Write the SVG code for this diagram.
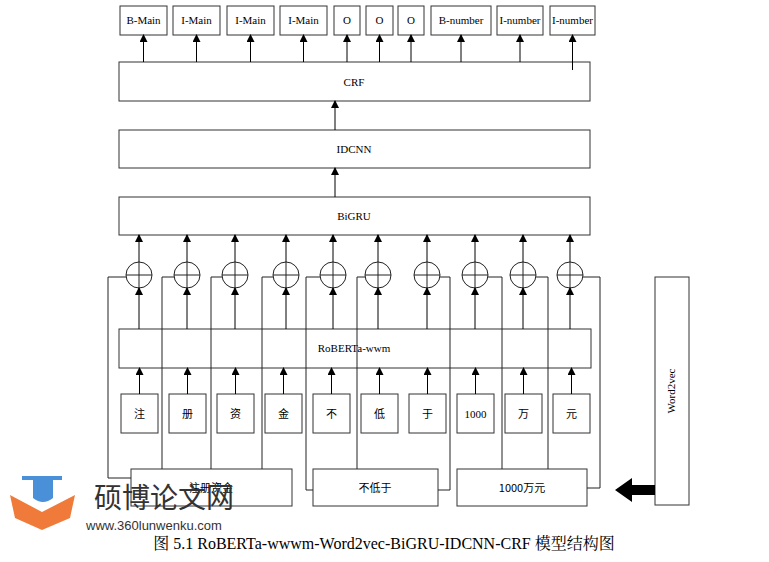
<svg xmlns="http://www.w3.org/2000/svg" width="769" height="562" viewBox="0 0 769 562">
<style>
.b{fill:#fff;stroke:#333;stroke-width:1}
.t{font-family:"Liberation Serif","Noto Sans CJK SC",serif;font-size:11px;text-anchor:middle;fill:#000}
.c{font-family:"Noto Sans CJK SC",sans-serif;font-size:11px;text-anchor:middle;fill:#000}
.l{fill:none;stroke:#222;stroke-width:1}
.a line{stroke:#000;stroke-width:1;marker-end:url(#ar)}
</style>
<defs><marker id="ar" markerWidth="8" markerHeight="8" refX="7" refY="4" orient="auto" markerUnits="userSpaceOnUse"><path d="M0,0L8,4L0,8z" fill="#000"/></marker></defs>
<rect width="769" height="562" fill="#fff"/>
<g id="labels">
<rect class="b" x="120" y="6" width="47" height="29"/><text class="t" x="143.5" y="24">B-Main</text>
<rect class="b" x="173" y="6" width="47" height="29"/><text class="t" x="196.5" y="24">I-Main</text>
<rect class="b" x="227" y="6" width="47" height="29"/><text class="t" x="250.5" y="24">I-Main</text>
<rect class="b" x="280" y="6" width="47" height="29"/><text class="t" x="303.5" y="24">I-Main</text>
<rect class="b" x="334" y="6" width="26" height="29"/><text class="t" x="347" y="24">O</text>
<rect class="b" x="366" y="6" width="27" height="29"/><text class="t" x="379.5" y="24">O</text>
<rect class="b" x="398" y="6" width="26" height="29"/><text class="t" x="411" y="24">O</text>
<rect class="b" x="431" y="6" width="60" height="29"/><text class="t" x="461" y="24">B-number</text>
<rect class="b" x="497" y="6" width="46" height="29"/><text class="t" x="520" y="24">I-number</text>
<rect class="b" x="550" y="6" width="45" height="29"/><text class="t" x="572.5" y="24">I-number</text>
</g>
<g id="crf"><rect class="b" x="119" y="62" width="471" height="39"/><text class="t" x="354" y="86">CRF</text></g>
<g id="idcnn"><rect class="b" x="119" y="130" width="471" height="38"/><text class="t" x="354" y="153">IDCNN</text></g>
<g id="bigru"><rect class="b" x="119" y="197" width="471" height="38"/><text class="t" x="354" y="220">BiGRU</text></g>
<g id="roberta"><rect class="b" x="119" y="329" width="472" height="39"/><text class="t" x="354" y="352">RoBERTa-wwm</text></g>
<g id="tokens">
<rect class="b" x="121" y="394" width="37" height="39"/><text class="c" x="139.5" y="418">注</text>
<rect class="b" x="169" y="394" width="37" height="39"/><text class="c" x="187.5" y="418">册</text>
<rect class="b" x="217" y="394" width="37" height="39"/><text class="c" x="235.5" y="418">资</text>
<rect class="b" x="265" y="394" width="37" height="39"/><text class="c" x="283.5" y="418">金</text>
<rect class="b" x="313" y="394" width="37" height="39"/><text class="c" x="331.5" y="418">不</text>
<rect class="b" x="361" y="394" width="37" height="39"/><text class="c" x="379.5" y="418">低</text>
<rect class="b" x="409" y="394" width="37" height="39"/><text class="c" x="427.5" y="418">于</text>
<rect class="b" x="457" y="394" width="37" height="39"/><text class="t" x="475.5" y="418">1000</text>
<rect class="b" x="505" y="394" width="37" height="39"/><text class="c" x="523.5" y="418">万</text>
<rect class="b" x="553" y="394" width="37" height="39"/><text class="c" x="571.5" y="418">元</text>
</g>
<g id="words">
<rect class="b" x="131" y="469" width="161" height="37"/><text class="c" x="211" y="492">注册资金</text>
<rect class="b" x="313" y="469" width="125" height="37"/><text class="c" x="375" y="492">不低于</text>
<rect class="b" x="457" y="469" width="130" height="37"/><text class="c" x="522" y="492">1000万元</text>
</g>
<g id="word2vec"><rect class="b" x="655" y="277" width="34" height="228"/><text class="t" transform="translate(675,391) rotate(-90)">Word2vec</text></g>
<g id="plus">
<g class="l">
<circle cx="139" cy="275" r="13"/><path d="M126,275h26M139,262v26"/>
<circle cx="187" cy="275" r="13"/><path d="M174,275h26M187,262v26"/>
<circle cx="235" cy="275" r="13"/><path d="M222,275h26M235,262v26"/>
<circle cx="286" cy="275" r="13"/><path d="M273,275h26M286,262v26"/>
<circle cx="333" cy="275" r="13"/><path d="M320,275h26M333,262v26"/>
<circle cx="378" cy="275" r="13"/><path d="M365,275h26M378,262v26"/>
<circle cx="427" cy="275" r="13"/><path d="M414,275h26M427,262v26"/>
<circle cx="475" cy="275" r="13"/><path d="M462,275h26M475,262v26"/>
<circle cx="523" cy="275" r="13"/><path d="M510,275h26M523,262v26"/>
<circle cx="570" cy="275" r="13"/><path d="M557,275h26M570,262v26"/>
</g>
</g>
<g id="connectors">
<g class="a">
<line x1="143.5" y1="62" x2="143.5" y2="35"/><line x1="196.5" y1="62" x2="196.5" y2="35"/><line x1="250.5" y1="62" x2="250.5" y2="35"/><line x1="303.5" y1="62" x2="303.5" y2="35"/><line x1="347" y1="62" x2="347" y2="35"/><line x1="379.5" y1="62" x2="379.5" y2="35"/><line x1="411" y1="62" x2="411" y2="35"/><line x1="461" y1="62" x2="461" y2="35"/><line x1="520" y1="62" x2="520" y2="35"/><line x1="572.5" y1="70" x2="572.5" y2="35"/>
<line x1="335" y1="130" x2="335" y2="101"/><line x1="335" y1="197" x2="335" y2="168"/>
<line x1="139" y1="262" x2="139" y2="235"/><line x1="187" y1="262" x2="187" y2="235"/><line x1="235" y1="262" x2="235" y2="235"/><line x1="286" y1="262" x2="286" y2="235"/><line x1="333" y1="262" x2="333" y2="235"/><line x1="378" y1="262" x2="378" y2="235"/><line x1="427" y1="262" x2="427" y2="235"/><line x1="475" y1="262" x2="475" y2="235"/><line x1="523" y1="262" x2="523" y2="235"/><line x1="570" y1="262" x2="570" y2="235"/>
<line x1="139" y1="329" x2="139" y2="288"/><line x1="187" y1="329" x2="187" y2="288"/><line x1="235" y1="329" x2="235" y2="288"/><line x1="286" y1="329" x2="286" y2="288"/><line x1="333" y1="329" x2="333" y2="288"/><line x1="378" y1="329" x2="378" y2="288"/><line x1="427" y1="329" x2="427" y2="288"/><line x1="475" y1="329" x2="475" y2="288"/><line x1="523" y1="329" x2="523" y2="288"/><line x1="570" y1="329" x2="570" y2="288"/>
<line x1="139.5" y1="394" x2="139.5" y2="368"/><line x1="187.5" y1="394" x2="187.5" y2="368"/><line x1="235.5" y1="394" x2="235.5" y2="368"/><line x1="283.5" y1="394" x2="283.5" y2="368"/><line x1="331.5" y1="394" x2="331.5" y2="368"/><line x1="379.5" y1="394" x2="379.5" y2="368"/><line x1="427.5" y1="394" x2="427.5" y2="368"/><line x1="475.5" y1="394" x2="475.5" y2="368"/><line x1="523.5" y1="394" x2="523.5" y2="368"/><line x1="571.5" y1="394" x2="571.5" y2="368"/>
</g>
<path class="l" d="M126,277H108V478H131M174,277H162V469M222,277H211V469M273,277H262V469M320,277H306V490H313M365,277H357V469M440,277H450V490H438M488,277H502V469M536,277H548V469M583,277H600V488H587"/>
<path d="M615,490L632,478V485H655V495H632V502Z" fill="#000"/>
</g>
<g id="watermark">
<path d="M22,476h40v4h-40z" fill="#4a90d9"/>
<path d="M33,480h20v18q-10,8-20,0z" fill="#4a90d9"/>
<path d="M10,495L42,512L75,495L70,518L42,530L15,518Z" fill="#f07a3a"/>
<text x="94" y="508" style="font-family:'Noto Sans CJK SC',sans-serif;font-size:28px;fill:#333">硕博论文网</text>
<text x="86" y="530" style="font-family:'Liberation Sans',sans-serif;font-size:13px;fill:#333">www.360lunwenku.com</text>
</g>
<text x="384" y="549" style="font-family:'Liberation Serif','Noto Serif CJK SC','Noto Sans CJK SC',serif;font-size:16px;text-anchor:middle;fill:#000">图 5.1 RoBERTa-wwwm-Word2vec-BiGRU-IDCNN-CRF 模型结构图</text>
</svg>
